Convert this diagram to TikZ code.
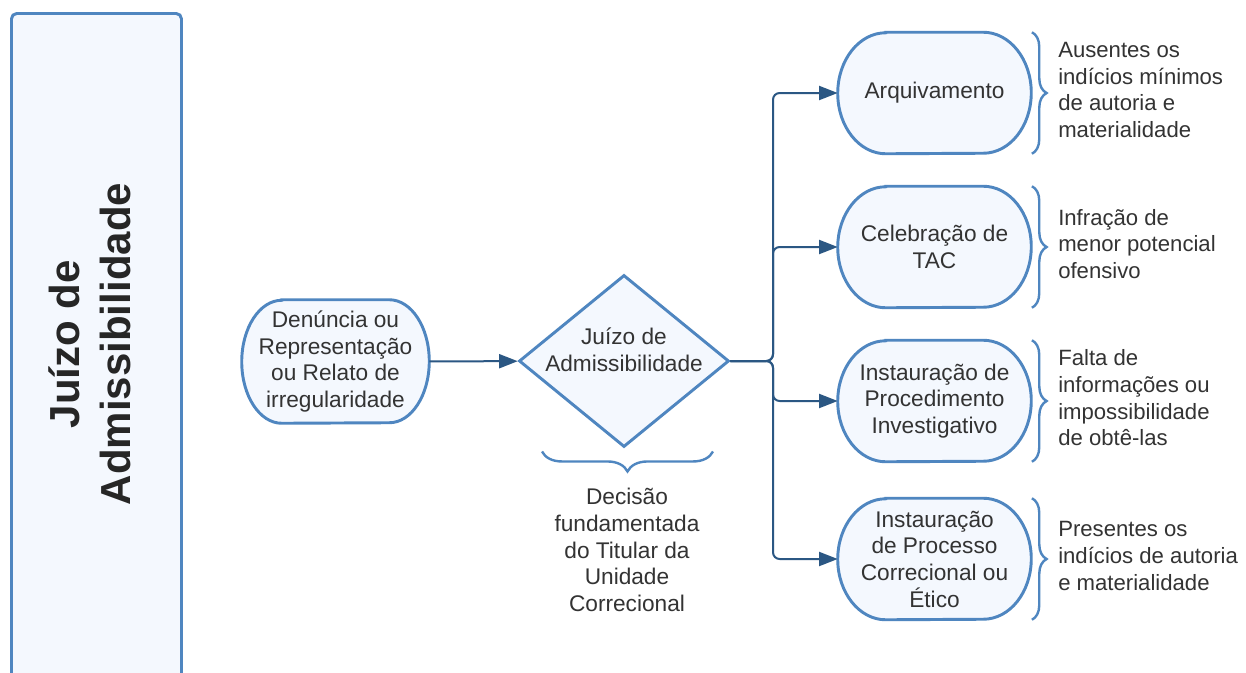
\documentclass[tikz,border=0pt]{standalone}
\usepackage{fontspec}
\setmainfont{Liberation Sans}
\usetikzlibrary{shapes.geometric,arrows.meta,decorations.pathreplacing,calc}
\pgfdeclarelayer{background}\pgfsetlayers{background,main}
\definecolor{edgec}{HTML}{4F86C0}
\definecolor{fillc}{HTML}{F4F8FE}
\definecolor{connc}{HTML}{2B5783}
\definecolor{txtc}{HTML}{333333}
\newcommand\stadium[3]{%
  \begin{pgfonlayer}{background}
  \draw[shapeline] ([xshift=#2]#1.north west) -- ([xshift=-#2]#1.north east)
    arc[start angle=90,end angle=-90,x radius=#2,y radius=#3]
    -- ([xshift=#2]#1.south west)
    arc[start angle=270,end angle=90,x radius=#2,y radius=#3] -- cycle;
  \end{pgfonlayer}}
\begin{document}
\begin{tikzpicture}[x=0.75pt,y=-0.75pt,
  shapeline/.style={draw=edgec, line width=2.2pt, fill=fillc},
  conn/.style={draw=connc, line width=1.5pt, -{Triangle[length=14pt,width=10.5pt]}, rounded corners=5pt},
  lbl/.style={text=txtc, font=\fontsize{17}{20}\selectfont, align=center, inner sep=0pt},
  note/.style={text=txtc, font=\fontsize{16.6}{20}\selectfont, align=left, anchor=west, inner sep=0pt},
  br/.style={draw=edgec, line width=1.8pt, decorate, decoration={brace, amplitude=11pt}},
  brb/.style={draw=edgec, line width=1.8pt, decorate, decoration={brace, amplitude=15pt}},
  endbox/.style={lbl, minimum width=144.75pt, minimum height=90.75pt}]
\clip (0,0) rectangle (1246,672);
\begin{pgfonlayer}{background}
\fill[white] (0,0) rectangle (1246,672);
\end{pgfonlayer}

% left panel
\node[draw=edgec, fill=fillc, line width=2.2pt, rounded corners=4pt, minimum width=127.5pt,
  minimum height=525pt, anchor=north west, inner sep=0pt] (panel) at (10,12) {};
\node[rotate=90, align=center, text=black!85, font=\fontsize{31.5}{38.5}\selectfont\bfseries] (title) at (90,344) {Juízo de\\Admissibilidade};

% start node
\node[lbl, minimum width=140.25pt, minimum height=92.25pt] (s) at (335.5,361.5) {Denúncia ou\\Representação\\ou Relato de\\irregularidade};
\stadium{s}{30pt}{46.125pt}

% decision
\node[diamond, shapeline, minimum width=157.5pt, minimum height=129pt, inner sep=0pt, aspect=1.22] (d) at (624,361) {};
\node[lbl] (dtxt) at (624,350) {Juízo de\\Admissibilidade};

% brace under decision
\draw[brb] ([shift={(89,3)}]d.south) -- ([shift={(-82,3)}]d.south);
\node[lbl] (dec) at (627,550) {Decisão\\fundamentada\\do Titular da\\Unidade\\Correcional};

% outcome nodes
\node[endbox] (a1) at (934.5,93) {Arquivamento};
\node[endbox] (a2) at (934.5,247) {Celebração de\\TAC};
\node[endbox] (a3) at (934.5,401) {Instauração de\\Procedimento\\Investigativo};
\node[endbox] (a4) at (934.5,559) {Instauração\\de Processo\\Correcional ou\\Ético};
\stadium{a1}{36pt}{45.375pt}
\stadium{a2}{36pt}{45.375pt}
\stadium{a3}{36pt}{45.375pt}
\stadium{a4}{36pt}{45.375pt}

% connectors
\coordinate (j) at (773,361);
\draw[conn] (s) -- (d);
\draw[conn] (d.east) -- (j) |- (a1.west);
\draw[conn] (d.east) -- (j) |- (a2.west);
\draw[conn] (d.east) -- (j) |- (a3.west);
\draw[conn] (d.east) -- (j) |- (a4.west);

% braces right
\foreach \n in {a1,a2,a3,a4}
  \draw[br] ([xshift=0.5pt]\n.north east) -- ([xshift=0.5pt]\n.south east);

% notes
\node[note] (n1) at (1058,90) {Ausentes os\\indícios mínimos\\de autoria e\\materialidade};
\node[note] (n2) at (1058,244) {Infração de\\menor potencial\\ofensivo};
\node[note] (n3) at (1058,398) {Falta de\\informações ou\\impossibilidade\\de obtê-las};
\node[note] (n4) at (1058,556) {Presentes os\\indícios de autoria\\e materialidade};
\end{tikzpicture}
\end{document}
